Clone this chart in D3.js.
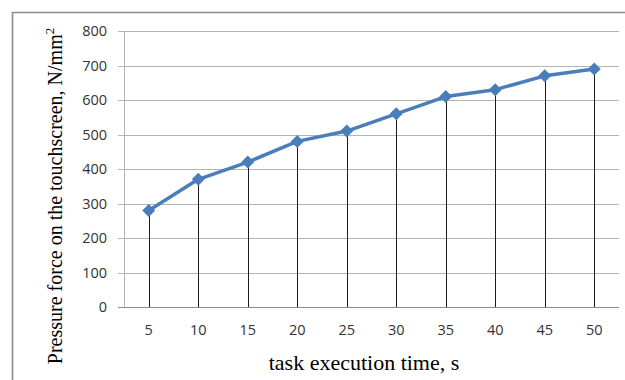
<!DOCTYPE html>
<html><head><meta charset="utf-8">
<script src="https://cdn.jsdelivr.net/npm/d3@7"></script>
<style>body{margin:0;background:#fff}svg{display:block}</style>
</head><body>
<svg id="c" width="625" height="380"></svg>
<script>
const categories = ["5","10","15","20","25","30","35","40","45","50"];
const values = [280, 370, 420, 480, 510, 560, 610, 630, 670, 690];
const yTicks = [0,100,200,300,400,500,600,700,800];
const yTitle = "Pressure force on the touchscreen, N/mm";
const xTitle = "task execution time, s";

const svg = d3.select("#c");
const L = 124, R = 619, T = 31, B = 307;
const x = d3.scaleBand().domain(categories).range([L, R]);
const y = d3.scaleLinear().domain([0, 800]).range([B, T]);

// frame
svg.append("path").attr("d", `M12.5,380 V12.5 H625`).attr("fill","none")
  .attr("stroke","#8a8a8a").attr("stroke-width",1.6);

// gridlines
svg.append("g").selectAll("line").data(yTicks).join("line")
  .attr("x1", L-6).attr("x2", R).attr("y1", d=>Math.round(y(d))+0.5).attr("y2", d=>Math.round(y(d))+0.5)
  .attr("stroke", d=> d===0 ? "#8c8c8c" : "#b4b4b4").attr("stroke-width",1);
// y axis line
svg.append("line").attr("x1", L+0.5).attr("x2", L+0.5).attr("y1", T).attr("y2", B+0.5)
  .attr("stroke","#b4b4b4");

// y tick labels
svg.append("g").selectAll("text").data(yTicks).join("text")
  .attr("x", 107).attr("y", d=>y(d)).attr("dy","0.36em").attr("text-anchor","end")
  .attr("font-family","Open Sans, sans-serif").attr("font-size",14.5).attr("fill","#333")
  .text(d=>d);
// x tick labels
svg.append("g").selectAll("text").data(categories).join("text")
  .attr("x", d=>x(d)+x.bandwidth()/2).attr("y", 335).attr("text-anchor","middle")
  .attr("font-family","Open Sans, sans-serif").attr("font-size",14.5).attr("fill","#333")
  .text(d=>d);

const cx = d=>x(d)+x.bandwidth()/2;
// drop lines
svg.append("g").selectAll("line").data(categories).join("line")
  .attr("x1", d=>Math.round(cx(d))+0.5).attr("x2", d=>Math.round(cx(d))+0.5)
  .attr("y1", (d,i)=>y(values[i])).attr("y2", B)
  .attr("stroke","#1a1a1a").attr("stroke-width",1);

// line
const pts = categories.map((c,i)=>[cx(c), y(values[i])]);
svg.append("path").attr("d", d3.line()(pts)).attr("fill","none")
  .attr("stroke","#4a7ebb").attr("stroke-width",3.5).attr("stroke-linejoin","round");
// markers
svg.append("g").selectAll("path").data(pts).join("path")
  .attr("transform", d=>`translate(${d[0]},${d[1]})`)
  .attr("d","M0,-6.5 L6.5,0 L0,6.5 L-6.5,0 Z").attr("fill","#4a7ebb");

// titles
svg.append("text").attr("x", 364).attr("y", 370).attr("text-anchor","middle")
  .attr("font-family","Liberation Serif, Times New Roman, serif").attr("font-size",22).attr("fill","#000")
  .text(xTitle);
const yt = svg.append("text").attr("transform","translate(62,196) rotate(-90)").attr("text-anchor","middle")
  .attr("font-family","Liberation Serif, Times New Roman, serif").attr("font-size",20).attr("fill","#000");
yt.append("tspan").text(yTitle);
yt.append("tspan").attr("dy",-8).attr("font-size",13).text("2");
</script>
</body></html>
